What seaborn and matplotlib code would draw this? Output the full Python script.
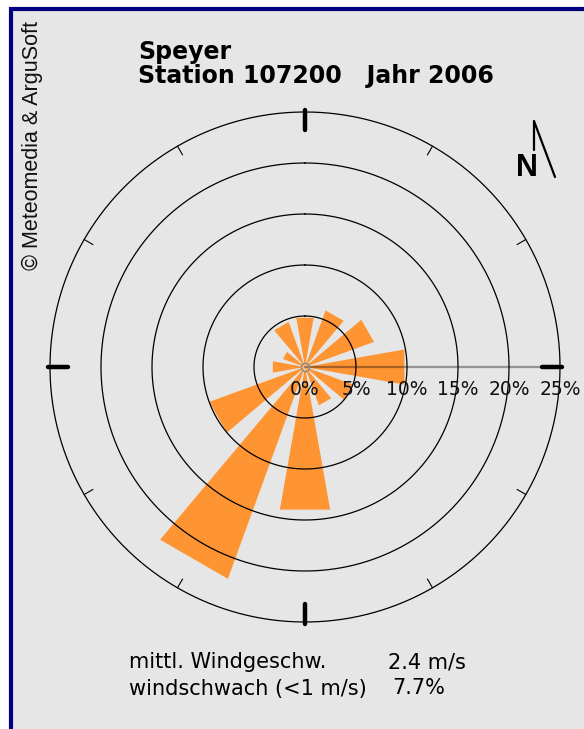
import numpy as np
import pandas as pd
import matplotlib
matplotlib.use("Agg")
import matplotlib.pyplot as plt
from matplotlib.patches import Rectangle
from matplotlib.lines import Line2D
from matplotlib.transforms import offset_copy
import seaborn as sns

# wind rose data (direction in degrees, share of hours in %)
directions = [0, 30, 60, 90, 120, 150, 180, 210, 240, 270, 300, 330]
frequency = [4.9, 5.9, 7.2, 9.9, 5.0, 4.0, 14.2, 22.1, 10.0, 3.2, 2.3, 4.7]
ring_levels = [0, 5, 10, 15, 20, 25]
ring_labels = ["0%", "5%", "10%", "15%", "20%", "25%"]
title_lines = ["Speyer", "Station 107200   Jahr 2006"]
stats_labels = ["mittl. Windgeschw.", "windschwach (<1 m/s)"]
stats_values = ["2.4 m/s", "7.7%"]

W, H = 584, 729
ORANGE = "#FF9433"
BG = "#E6E6E6"

sns.set_style("white")
plt.rcParams["font.family"] = ["DejaVu Sans"]
plt.rcParams["text.color"] = "black"

fig = plt.figure(figsize=(W / 100, H / 100), dpi=100)
fig.patch.set_facecolor("white")


def fx(px):
    return px / W


def fy(py):
    return 1 - py / H


# grey panel with navy border on top / left
fig.add_artist(Rectangle((fx(10.5), -0.1), 1.2, fy(9.2) + 0.1, transform=fig.transFigure,
                         facecolor=BG, edgecolor="#000080", lw=3, zorder=-1))

# polar axes centred on the rose
cx, cy, ppu, rmax = 305, 367, 10.2, 26
rad = rmax * ppu
ax = fig.add_axes([fx(cx - rad), fy(cy + rad), 2 * rad / W, 2 * rad / H], projection="polar")
ax.patch.set_alpha(0)
ax.set_theta_zero_location("N")
ax.set_theta_direction(-1)

df = pd.DataFrame({"theta": np.deg2rad(directions), "freq": frequency})
sns.barplot(data=df, x="theta", y="freq", native_scale=True, width=20 / 30,
            color=ORANGE, saturation=1, errorbar=None, linewidth=0, ax=ax)
# flat outer edge on each sector (no arc interpolation)
for p in ax.patches:
    p.get_path()._interpolation_steps = 1

ax.set_ylim(0, rmax)
ax.set_xlabel("")
ax.set_ylabel("")
ax.set_xticks([])
ax.set_yticks([])
ax.grid(False)
ax.spines["polar"].set_visible(False)

# rings
circ = np.linspace(0, 2 * np.pi, 400)
for lvl in ring_levels[1:]:
    ax.plot(circ, np.full_like(circ, lvl), color="black", lw=0.9, zorder=3)

# east reference line and ring labels
ax.plot([np.pi / 2, np.pi / 2], [0, 25], color="black", alpha=0.35, lw=1.6, zorder=4)
lab_tr = offset_copy(ax.transData, fig=fig, y=-13, units="dots")
for lvl, lab in zip(ring_levels, ring_labels):
    ax.text(np.pi / 2, lvl, lab, transform=lab_tr, ha="center", va="top",
            fontsize=13.5, color="#111111", zorder=5)

# compass ticks
for d in range(0, 360, 30):
    t = np.deg2rad(d)
    if d % 90 == 0:
        ax.plot([t, t], [23.2, 25.2], color="black", lw=3.2, solid_capstyle="round", zorder=4)
    else:
        ax.plot([t, t], [24.0, 25.0], color="black", lw=0.8, zorder=4)
ax.plot([0], [0], marker="o", ms=6, mfc="none", mec="#888888", mew=1, zorder=5)

# titles
fig.text(fx(138), fy(58.5), title_lines[0], fontsize=17, fontweight="bold", va="baseline")
fig.text(fx(138), fy(83.5), title_lines[1], fontsize=17, fontweight="bold", va="baseline")

# copyright
fig.text(fx(32), fy(145), "\u00a9 Meteomedia & ArguSoft", rotation=90, ha="center", va="center",
         fontsize=15.5, family=["Liberation Sans", "DejaVu Sans"], color="#111111")

# north arrow
fig.text(fx(527), fy(176), "N", fontsize=22, fontweight="bold", ha="center", va="baseline",
         family=["Liberation Sans", "DejaVu Sans"])
fig.add_artist(Line2D([fx(534), fx(534), fx(555)], [fy(150), fy(121), fy(177)],
                      transform=fig.transFigure, color="black", lw=1.6))

# summary lines
fig.text(fx(129), fy(668.5), stats_labels[0], fontsize=15, va="baseline")
fig.text(fx(129), fy(694.5), stats_labels[1], fontsize=15, va="baseline")
fig.text(fx(388), fy(668.5), stats_values[0], fontsize=15, va="baseline")
fig.text(fx(392), fy(694.5), stats_values[1], fontsize=15, va="baseline")

fig.savefig("out.png", dpi=100)
